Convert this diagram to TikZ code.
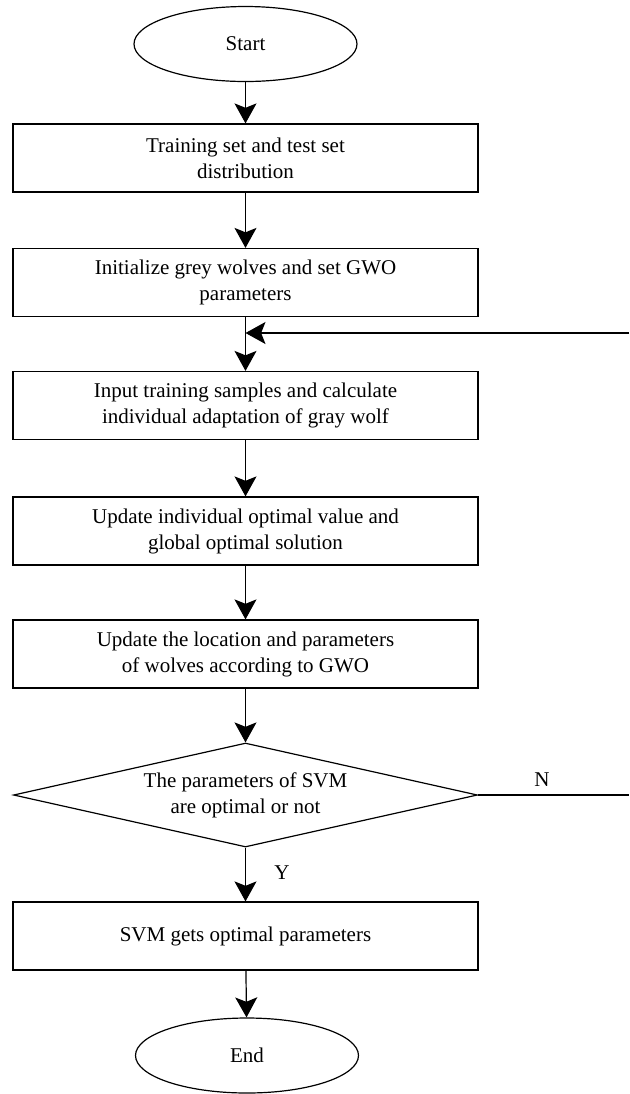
\documentclass[tikz,border=0pt]{standalone}
\usepackage{fontspec}
\setmainfont{Liberation Serif}
\usetikzlibrary{shapes.geometric}
\usetikzlibrary{arrows.meta}

\tikzset{
  txt/.style={font=\fontsize{10.5}{13}\selectfont},
  proc/.style={txt, draw, line width=0.6pt, rectangle, align=center,
    minimum width=232.5pt, minimum height=34pt, inner sep=0pt},
  term/.style={txt, draw, line width=0.6pt, ellipse,
    minimum width=111.5pt, minimum height=37.5pt, inner sep=0pt},
  decide/.style={txt, draw, line width=0.6pt, diamond, aspect=4.46, align=center,
    minimum width=232pt, minimum height=52pt, inner sep=0pt},
  flow/.style={line width=0.6pt, -{Stealth[length=10pt, width=11pt, inset=2.2pt]}},
  plain/.style={line width=0.6pt},
}

\begin{document}
\begin{tikzpicture}[x=0.5pt, y=-0.5pt]
\useasboundingbox (0,0) rectangle (629,1094);

% points def
\coordinate (back) at (629, 333);
\coordinate (join) at (245.5, 333);
\coordinate (nout) at (629, 795);

% nodes
\node[term] (start) at (245.5, 44) {Start};
\node[proc] (split) at (245.5, 158) {Training set and test set\\distribution};
\node[proc] (init) at (245.5, 282.5) {Initialize grey wolves and set GWO\\parameters};
\node[proc] (fitness) at (245.5, 405.5) {Input training samples and calculate\\individual adaptation of gray wolf};
\node[proc] (best) at (245.5, 531) {Update individual optimal value and\\global optimal solution};
\node[proc] (move) at (245.5, 654) {Update the location and parameters\\of wolves according to GWO};
\node[decide] (check) at (245.5, 795) {The parameters of SVM\\are optimal or not};
\node[proc] (result) at (245.5, 936) {SVM gets optimal parameters};
\node[term] (end) at (247, 1055.5) {End};

% labels
\node[txt] (no) at (542, 780) {N};
\node[txt] (yes) at (282, 873) {Y};

% lines
\draw[flow] (start) -- (split);
\draw[flow] (split) -- (init);
\draw[flow] (init) -- (fitness);
\draw[flow] (fitness) -- (best);
\draw[flow] (best) -- (move);
\draw[flow] (move) -- (check);
\draw[flow] (check) -- (result);
\draw[flow] (result) -- (end);

% loop back, cut at the right edge
\draw[plain] (check.east) -- (nout);
\draw[flow] (back) -- (join);
\end{tikzpicture}
\end{document}
